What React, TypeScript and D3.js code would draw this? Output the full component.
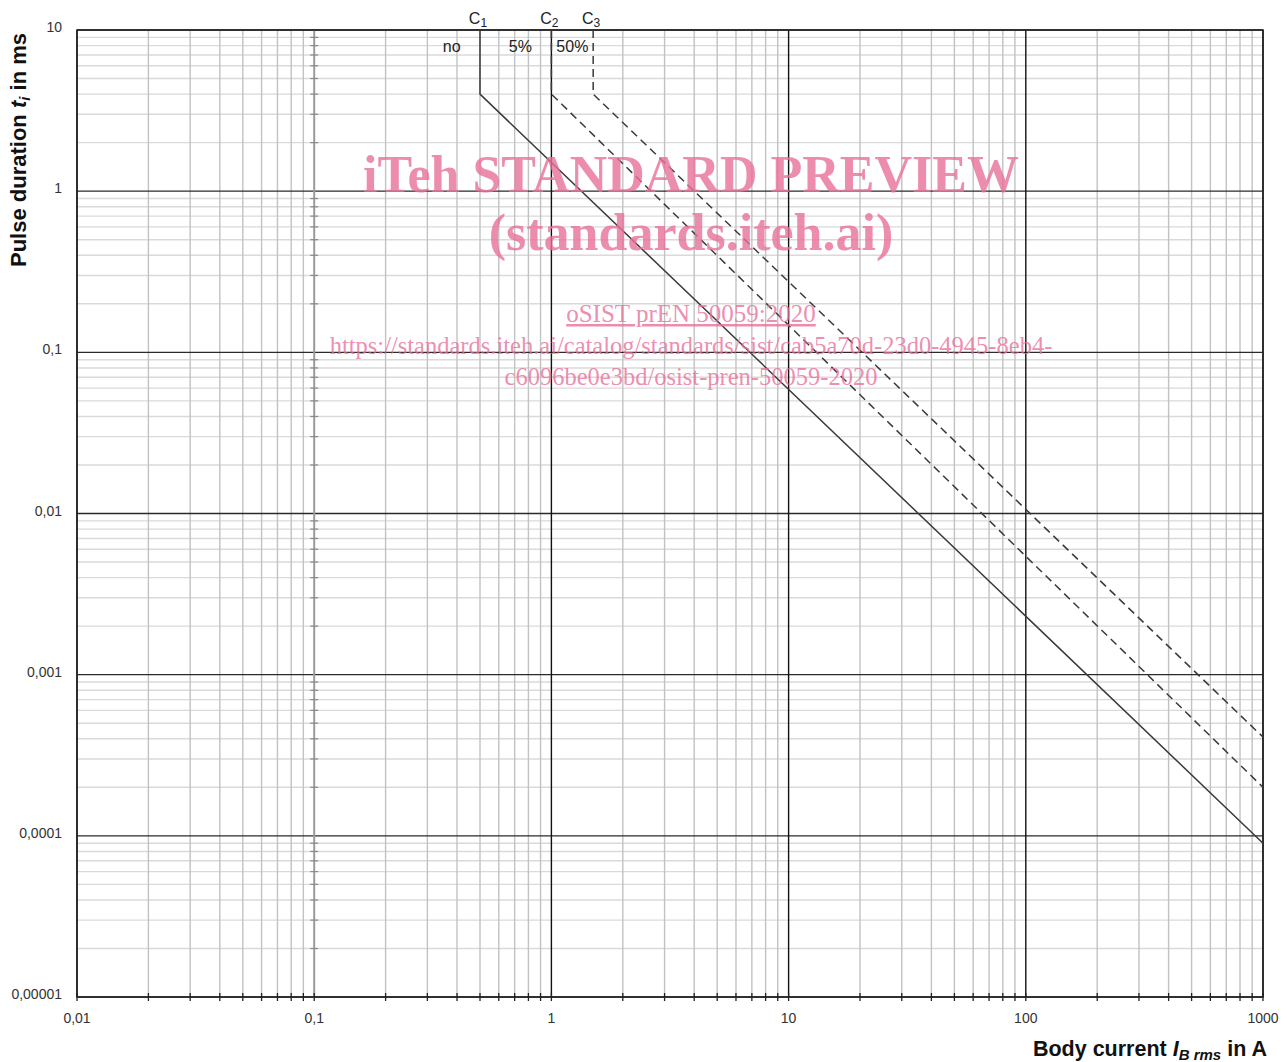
import * as d3 from "d3";
import { useEffect, useRef } from "react";

const xTickValues = [0.01, 0.1, 1, 10, 100, 1000];
const xTickLabels = ["0,01", "0,1", "1", "10", "100", "1000"];
const yTickValues = [10, 1, 0.1, 0.01, 0.001, 0.0001, 0.00001];
const yTickLabels = ["10", "1", "0,1", "0,01", "0,001", "0,0001", "0,00001"];

// threshold curves: [current A, duration ms]
const curveC1: [number, number][] = [[0.5, 10], [0.5, 4], [1000, 0.00009]];
const curveC2: [number, number][] = [[1, 10], [1, 4], [1000, 0.0002]];
const curveC3: [number, number][] = [[1.5, 10], [1.5, 4], [1000, 0.00041]];

const curveNames = ["C1", "C2", "C3"];
const zoneLabels = ["no", "5%", "50%"];
const zoneLabelX = [0.38, 0.74, 1.226];

const W = 1287;
const H = 1062;
const m = { left: 77, right: 1263, top: 30, bottom: 997 };

function minorValues(lo: number, hi: number) {
	const out: number[] = [];
	for (let d = lo; d < hi; d *= 10) {
		for (let k = 2; k <= 9; k++) out.push(+(d * k).toPrecision(3));
	}
	return out;
}

export default function App() {
	const ref = useRef<SVGSVGElement | null>(null);

	useEffect(() => {
		if (!ref.current) return;
		const svg = d3.select(ref.current);
		svg.selectAll("*").remove();

		const x = d3.scaleLog().domain([0.01, 1000]).range([m.left, m.right]);
		const y = d3.scaleLog().domain([0.00001, 10]).range([m.bottom, m.top]);

		const xMinor = minorValues(0.01, 1000);
		const yMinor = minorValues(0.00001, 10);

		const grid = svg.append("g");
		grid
			.selectAll("line.hm")
			.data(yMinor)
			.join("line")
			.attr("x1", m.left)
			.attr("x2", m.right)
			.attr("y1", (d) => y(d))
			.attr("y2", (d) => y(d))
			.attr("stroke", "#dadada")
			.attr("stroke-width", 1.4);
		grid
			.selectAll("line.vm")
			.data(xMinor)
			.join("line")
			.attr("x1", (d) => x(d))
			.attr("x2", (d) => x(d))
			.attr("y1", m.top)
			.attr("y2", m.bottom)
			.attr("stroke", "#c2c2c2")
			.attr("stroke-width", 1.4);

		// major horizontal lines
		grid
			.selectAll("line.hM")
			.data(yTickValues)
			.join("line")
			.attr("x1", m.left)
			.attr("x2", m.right)
			.attr("y1", (d) => y(d))
			.attr("y2", (d) => y(d))
			.attr("stroke", "#2a2a2a")
			.attr("stroke-width", 1.4);

		// major vertical lines
		grid
			.selectAll("line.vM")
			.data(xTickValues.filter((d) => d !== 0.1))
			.join("line")
			.attr("x1", (d) => x(d))
			.attr("x2", (d) => x(d))
			.attr("y1", m.top)
			.attr("y2", m.bottom)
			.attr("stroke", "#111")
			.attr("stroke-width", 1.4);

		// vertical axis line at 0.1 with minor ticks
		grid
			.append("line")
			.attr("x1", x(0.1))
			.attr("x2", x(0.1))
			.attr("y1", m.top)
			.attr("y2", m.bottom)
			.attr("stroke", "#9a9a9a")
			.attr("stroke-width", 2);
		grid
			.selectAll("line.yt")
			.data(yMinor)
			.join("line")
			.attr("x1", x(0.1) - 4)
			.attr("x2", x(0.1) + 4)
			.attr("y1", (d) => y(d))
			.attr("y2", (d) => y(d))
			.attr("stroke", "#8a8a8a")
			.attr("stroke-width", 1.2);

		// bottom axis ticks
		grid
			.selectAll("line.xt")
			.data([...xMinor, ...xTickValues])
			.join("line")
			.attr("x1", (d) => x(d))
			.attr("x2", (d) => x(d))
			.attr("y1", m.bottom - 4)
			.attr("y2", m.bottom + 4)
			.attr("stroke", "#222")
			.attr("stroke-width", 1.3);

		// frame
		svg
			.append("rect")
			.attr("x", m.left)
			.attr("y", m.top)
			.attr("width", m.right - m.left)
			.attr("height", m.bottom - m.top)
			.attr("fill", "none")
			.attr("stroke", "#222")
			.attr("stroke-width", 1.5);

		// curves
		const line = d3
			.line<[number, number]>()
			.x((d) => x(d[0]))
			.y((d) => y(d[1]));
		const curves = [curveC1, curveC2, curveC3];
		svg
			.append("g")
			.attr("fill", "none")
			.attr("stroke", "#3a3a3a")
			.attr("stroke-width", 1.5)
			.selectAll("path")
			.data(curves)
			.join("path")
			.attr("d", (d) => line(d))
			.attr("stroke-dasharray", (_d, i) => (i === 0 ? null : "8,5"));

		const font = "'Liberation Sans', Arial, sans-serif";

		// curve names with subscript
		curveNames.forEach((name, i) => {
			const t = svg
				.append("text")
				.attr("x", x(curves[i][0][0]) - 2)
				.attr("y", 24)
				.attr("text-anchor", "middle")
				.attr("font-family", font)
				.attr("font-size", 16)
				.attr("fill", "#222");
			t.append("tspan").text(name[0]);
			t.append("tspan").attr("font-size", 12).attr("dy", 3).text(name[1]);
		});

		// zone labels
		svg
			.append("g")
			.selectAll("text")
			.data(zoneLabels)
			.join("text")
			.attr("x", (_d, i) => x(zoneLabelX[i]))
			.attr("y", 52)
			.attr("text-anchor", "middle")
			.attr("font-family", font)
			.attr("font-size", 16)
			.attr("fill", "#222")
			.text((d) => d);

		// tick labels
		svg
			.append("g")
			.selectAll("text")
			.data(xTickValues)
			.join("text")
			.attr("x", (d) => x(d))
			.attr("y", 1023)
			.attr("text-anchor", "middle")
			.attr("font-family", font)
			.attr("font-size", 14)
			.attr("fill", "#333")
			.text((_d, i) => xTickLabels[i]);
		svg
			.append("g")
			.selectAll("text")
			.data(yTickValues)
			.join("text")
			.attr("x", 62)
			.attr("y", (d) => y(d) + 2)
			.attr("text-anchor", "end")
			.attr("font-family", font)
			.attr("font-size", 14)
			.attr("fill", "#333")
			.text((_d, i) => yTickLabels[i]);

		// axis titles
		const xt = svg
			.append("text")
			.attr("x", 1267)
			.attr("y", 1056)
			.attr("text-anchor", "end")
			.attr("font-family", font)
			.attr("font-size", 21.5)
			.attr("font-weight", "bold")
			.attr("fill", "#111");
		xt.append("tspan").text("Body current ");
		xt.append("tspan").attr("font-style", "italic").text("I");
		xt.append("tspan").attr("font-style", "italic").attr("font-size", 15).attr("dy", 4).text("B rms");
		xt.append("tspan").attr("dy", -4).text(" in A");

		const yt = svg
			.append("text")
			.attr("transform", "translate(26,150) rotate(-90)")
			.attr("text-anchor", "middle")
			.attr("font-family", font)
			.attr("font-size", 22)
			.attr("font-weight", "bold")
			.attr("fill", "#111");
		yt.append("tspan").text("Pulse duration ");
		yt.append("tspan").attr("font-style", "italic").text("t");
		yt.append("tspan").attr("font-style", "italic").attr("font-size", 15).attr("dy", 4).text("i");
		yt.append("tspan").attr("dy", -4).text(" in ms");

		// watermark
		const serif = "'Liberation Serif', 'Times New Roman', serif";
		const wm = svg
			.append("g")
			.attr("fill", "#e8709a")
			.attr("fill-opacity", 0.8)
			.attr("font-family", serif)
			.attr("text-anchor", "middle");
		wm.append("text").attr("x", 691).attr("y", 192).attr("font-size", 52).attr("font-weight", "bold").text("iTeh STANDARD PREVIEW");
		wm.append("text").attr("x", 691).attr("y", 250).attr("font-size", 52).attr("font-weight", "bold").text("(standards.iteh.ai)");
		wm.append("text").attr("x", 691).attr("y", 322).attr("font-size", 25).attr("text-decoration", "underline").text("oSIST prEN 50059:2020");
		wm.append("text").attr("x", 691).attr("y", 354).attr("font-size", 24.5).text("https://standards.iteh.ai/catalog/standards/sist/cab5a70d-23d0-4945-8eb4-");
		wm.append("text").attr("x", 691).attr("y", 385).attr("font-size", 24.5).text("c6096be0e3bd/osist-pren-50059-2020");
	}, []);

	return (
		<svg
			ref={ref}
			width={W}
			height={H}
			style={{ position: "absolute", left: 0, top: 0, background: "#fff" }}
		></svg>
	);
}
